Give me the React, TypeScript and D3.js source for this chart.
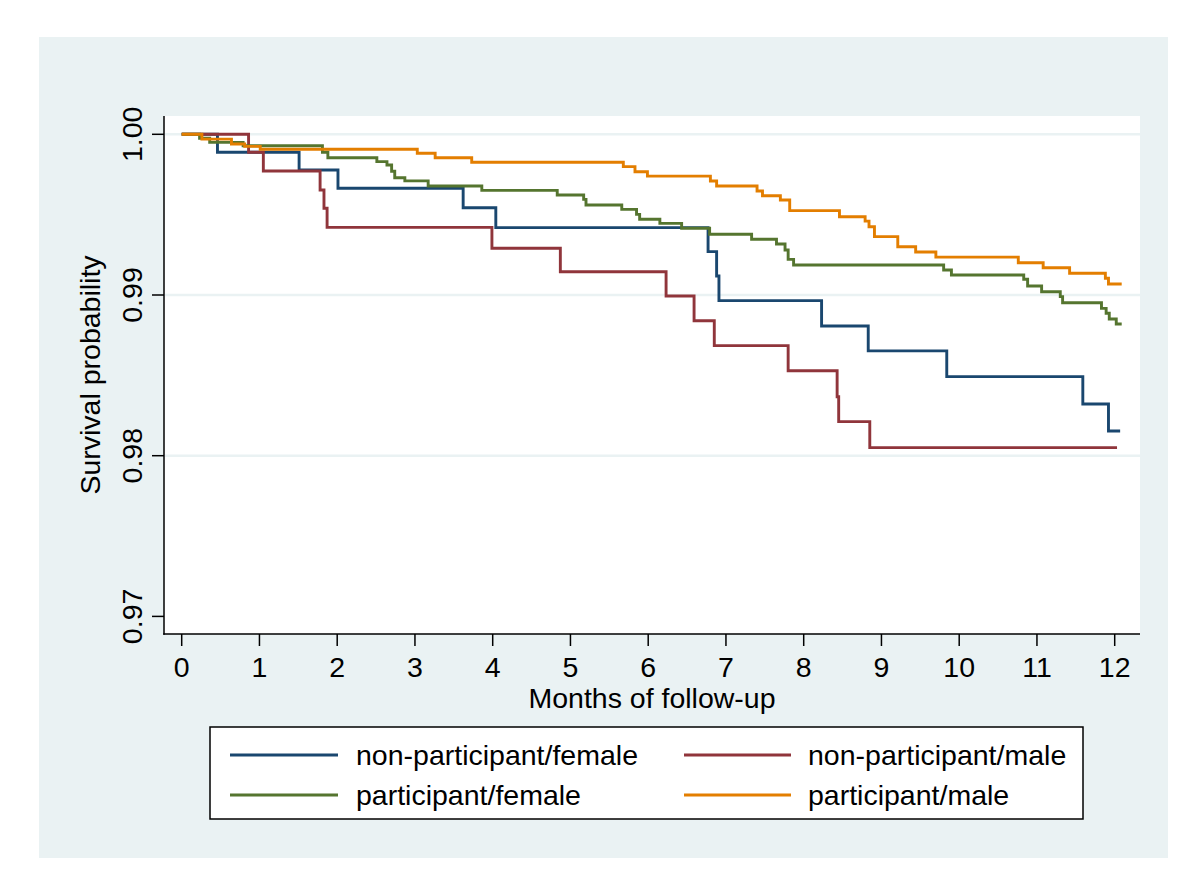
import React from "react";
import * as d3 from "d3";

// ---- Data ----
const seriesNames = [
  "non-participant/female",
  "non-participant/male",
  "participant/female",
  "participant/male",
];
const seriesColors = ["#1a476f", "#90353b", "#55752f", "#e37e00"];

// non-participant/female
const npfTimes = [0, 0.46, 1.51, 2.01, 3.62, 4.04, 6.77, 6.88, 6.91, 8.23, 8.83, 9.84, 11.59, 11.92, 12.07];
const npfSurv = [1, 0.99888, 0.99778, 0.99664, 0.99543, 0.99419, 0.9927, 0.99118, 0.98965, 0.98807, 0.98652, 0.98492, 0.98322, 0.98154, 0.98154];

// non-participant/male
const npmTimes = [0, 0.86, 1.05, 1.78, 1.83, 1.87, 3.99, 4.87, 6.23, 6.59, 6.85, 7.8, 8.43, 8.45, 8.85, 12.03];
const npmSurv = [1, 0.99888, 0.99772, 0.99653, 0.9954, 0.99421, 0.99291, 0.99145, 0.98994, 0.9884, 0.98685, 0.98529, 0.98367, 0.98212, 0.9805, 0.9805];

// participant/female
const pfTimes = [0, 0.23, 0.36, 0.79, 1.81, 1.88, 2.51, 2.64, 2.7, 2.74, 2.87, 3.17, 3.86, 4.83, 5.17, 5.2, 5.66, 5.85, 5.89, 6.15, 6.43, 6.79, 7.33, 7.65, 7.76, 7.8, 7.87, 9.8, 9.9, 10.83, 10.88, 11.06, 11.3, 11.33, 11.83, 11.89, 11.93, 12.02, 12.09];
const pfSurv = [1, 0.99975, 0.9995, 0.99929, 0.99888, 0.99854, 0.9983, 0.99809, 0.9977, 0.9973, 0.9971, 0.99678, 0.99651, 0.99622, 0.99595, 0.9956, 0.99533, 0.99502, 0.99471, 0.99446, 0.99415, 0.99378, 0.99347, 0.99317, 0.9928, 0.99222, 0.99187, 0.99156, 0.99124, 0.99098, 0.99056, 0.9902, 0.9899, 0.98952, 0.98917, 0.98886, 0.98851, 0.9882, 0.9882];

// participant/male
const pmTimes = [0, 0.26, 0.64, 0.81, 1.01, 3.03, 3.26, 3.73, 5.68, 5.83, 5.99, 6.8, 6.88, 7.4, 7.47, 7.7, 7.82, 8.46, 8.79, 8.84, 8.91, 9.21, 9.44, 9.7, 10.76, 11.08, 11.42, 11.88, 11.92, 12.09];
const pmSurv = [1, 0.9997, 0.9994, 0.99925, 0.99907, 0.99882, 0.99854, 0.99826, 0.99799, 0.99767, 0.9974, 0.99709, 0.99678, 0.99647, 0.99618, 0.99591, 0.99525, 0.99487, 0.9946, 0.99425, 0.99363, 0.993, 0.99268, 0.99236, 0.99201, 0.9917, 0.99135, 0.99104, 0.99068, 0.99068];

const xTicks = [0, 1, 2, 3, 4, 5, 6, 7, 8, 9, 10, 11, 12];
const yTicks = [0.97, 0.98, 0.99, 1.0];
const yGrid = [0.98, 0.99, 1.0];
const xTitle = "Months of follow-up";
const yTitle = "Survival probability";

const seriesTimes = [npfTimes, npmTimes, pfTimes, pmTimes];
const seriesSurv = [npfSurv, npmSurv, pfSurv, pmSurv];

export default function App() {
  const W = 1200;
  const H = 890;
  const plotL = 164, plotR = 1140, plotT = 116, plotB = 634;

  const x = d3.scaleLinear().domain([0, 12]).range([181.7, 1114.7]);
  const y = d3.scaleLinear().domain([0.97, 1.0]).range([616.4, 134.3]);

  const line = d3
    .line<[number, number]>()
    .x((d) => x(d[0]))
    .y((d) => y(d[1]))
    .curve(d3.curveStepAfter);

  const font = "'Liberation Sans', Arial, Helvetica, sans-serif";
  const fs = 28.5;
  const bg = "#eaf2f3";

  const legendRows = [
    [0, 1],
    [2, 3],
  ];
  const legendRowY = [755, 795];
  const legendCols = [
    { x1: 230, x2: 338, tx: 356 },
    { x1: 684, x2: 791, tx: 808 },
  ];

  return (
    <svg
      width={W}
      height={H}
      viewBox={`0 0 ${W} ${H}`}
      style={{ position: "absolute", left: 0, top: 0, background: "#ffffff" }}
      fontFamily={font}
    >
      <rect x={0} y={0} width={W} height={H} fill="#ffffff" />
      <rect x={39} y={37} width={1129} height={821} fill={bg} />
      <rect x={plotL} y={plotT} width={plotR - plotL} height={plotB - plotT} fill="#ffffff" />

      {/* gridlines */}
      {yGrid.map((v) => (
        <line key={"g" + v} x1={plotL + 1} x2={plotR} y1={y(v)} y2={y(v)} stroke={bg} strokeWidth={2.5} />
      ))}

      {/* series */}
      {seriesTimes.map((ts, i) => {
        const pts: [number, number][] = ts.map((t, j) => [t, seriesSurv[i][j]]);
        return (
          <path
            key={"s" + i}
            d={line(pts) || ""}
            fill="none"
            stroke={seriesColors[i]}
            strokeWidth={2.9}
            strokeLinejoin="miter"
          />
        );
      })}

      {/* axes */}
      <line x1={plotL} x2={plotL} y1={plotT} y2={plotB + 0.75} stroke="#000" strokeWidth={1.5} />
      <line x1={plotL - 0.75} x2={plotR} y1={plotB} y2={plotB} stroke="#000" strokeWidth={1.5} />

      {/* y ticks */}
      {yTicks.map((v) => (
        <g key={"yt" + v}>
          <line x1={plotL - 12} x2={plotL} y1={y(v)} y2={y(v)} stroke="#000" strokeWidth={1.5} />
          <text
            transform={`translate(142,${y(v)}) rotate(-90)`}
            textAnchor="middle"
            fontSize={fs}
            fill="#000"
          >
            {d3.format(".2f")(v)}
          </text>
        </g>
      ))}

      {/* x ticks */}
      {xTicks.map((v) => (
        <g key={"xt" + v}>
          <line x1={x(v)} x2={x(v)} y1={plotB} y2={plotB + 12} stroke="#000" strokeWidth={1.5} />
          <text x={x(v)} y={677} textAnchor="middle" fontSize={fs} fill="#000">
            {v}
          </text>
        </g>
      ))}

      {/* axis titles */}
      <text x={(plotL + plotR) / 2} y={708} textAnchor="middle" fontSize={fs} fill="#000">
        {xTitle}
      </text>
      <text
        transform={`translate(100,${(plotT + plotB) / 2}) rotate(-90)`}
        textAnchor="middle"
        fontSize={fs}
        fill="#000"
      >
        {yTitle}
      </text>

      {/* legend */}
      <rect x={210} y={727} width={873} height={92} fill="#ffffff" stroke="#000" strokeWidth={1.5} />
      {legendRows.map((row, ri) =>
        row.map((si, ci) => (
          <g key={"lg" + si}>
            <line
              x1={legendCols[ci].x1}
              x2={legendCols[ci].x2}
              y1={legendRowY[ri]}
              y2={legendRowY[ri]}
              stroke={seriesColors[si]}
              strokeWidth={2.9}
            />
            <text x={legendCols[ci].tx} y={legendRowY[ri] + 10} fontSize={fs} fill="#000">
              {seriesNames[si]}
            </text>
          </g>
        ))
      )}
    </svg>
  );
}
